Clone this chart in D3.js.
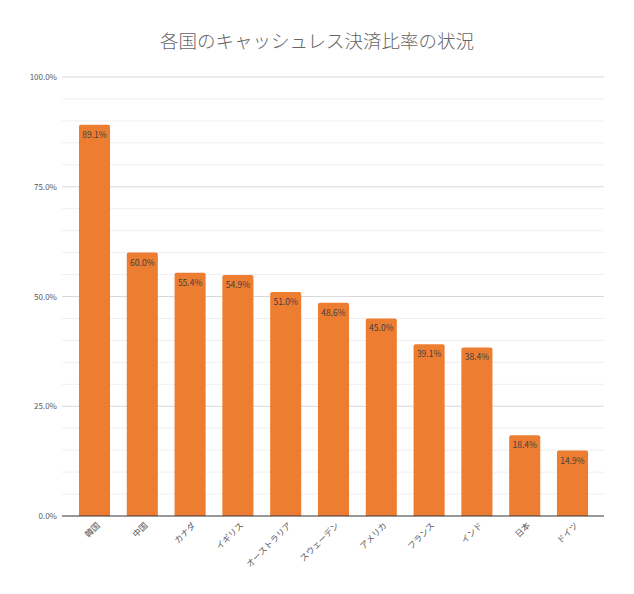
<!DOCTYPE html>
<html>
<head>
<meta charset="utf-8">
<script src="https://cdn.jsdelivr.net/npm/d3@7"></script>
<style>
  body { margin: 0; background: #fff; }
  svg { display: block; font-family: "Noto Sans CJK JP", "Noto Sans", sans-serif; }
</style>
</head>
<body>
<svg id="chart" width="634" height="594"></svg>
<script>
const countries = ["韓国", "中国", "カナダ", "イギリス", "オーストラリア", "スウェーデン", "アメリカ", "フランス", "インド", "日本", "ドイツ"];
const cashlessRate = [89.1, 60.0, 55.4, 54.9, 51.0, 48.6, 45.0, 39.1, 38.4, 18.4, 14.9];
const majorTicks = [0, 25, 50, 75, 100];
const minorTicks = [5, 10, 15, 20, 30, 35, 40, 45, 55, 60, 65, 70, 80, 85, 90, 95];

const svg = d3.select("#chart");
const plotLeft = 62, plotRight = 604, plotTop = 77, plotBottom = 516;

const x = d3.scaleBand()
    .domain(countries)
    .range([70.6, 596.4])
    .paddingInner(0.35)
    .paddingOuter(0.175);
const y = d3.scaleLinear().domain([0, 100]).range([plotBottom, plotTop]);

// title
svg.append("text")
    .attr("x", 317)
    .attr("y", 48)
    .attr("text-anchor", "middle")
    .attr("font-size", 18.5)
    .attr("font-weight", 300)
    .attr("fill", "#666")
    .text("各国のキャッシュレス決済比率の状況");

// gridlines
svg.append("g").selectAll("line")
    .data(minorTicks)
    .join("line")
    .attr("x1", plotLeft).attr("x2", plotRight)
    .attr("y1", d => y(d)).attr("y2", d => y(d))
    .attr("stroke", "#efefef").attr("stroke-width", 1);

svg.append("g").selectAll("line")
    .data(majorTicks.filter(d => d > 0))
    .join("line")
    .attr("x1", plotLeft).attr("x2", plotRight)
    .attr("y1", d => y(d)).attr("y2", d => y(d))
    .attr("stroke", "#d9d9d9").attr("stroke-width", 1);

// y axis labels
svg.append("g").selectAll("text")
    .data(majorTicks)
    .join("text")
    .attr("x", 57)
    .attr("y", d => y(d) + 3)
    .attr("text-anchor", "end")
    .attr("font-size", 8)
    .attr("fill", "#595959")
    .text(d => d.toFixed(1) + "%");

// bars with slightly rounded tops
const r = 2;
const data = countries.map((c, i) => ({ c, v: cashlessRate[i] }));
svg.append("g").selectAll("path")
    .data(data)
    .join("path")
    .attr("fill", "#ed7d31")
    .attr("d", d => {
        const x0 = x(d.c), w = x.bandwidth(), yt = y(d.v);
        return `M${x0},${plotBottom}V${yt + r}Q${x0},${yt} ${x0 + r},${yt}H${x0 + w - r}Q${x0 + w},${yt} ${x0 + w},${yt + r}V${plotBottom}Z`;
    });

// value labels
svg.append("g").selectAll("text")
    .data(data)
    .join("text")
    .attr("x", d => x(d.c) + x.bandwidth() / 2)
    .attr("y", d => y(d.v) + 13)
    .attr("text-anchor", "middle")
    .attr("font-size", 8.5)
    .attr("fill", "#404040")
    .text(d => d.v.toFixed(1) + "%");

// baseline
svg.append("line")
    .attr("x1", plotLeft).attr("x2", plotRight)
    .attr("y1", plotBottom).attr("y2", plotBottom)
    .attr("stroke", "#333").attr("stroke-width", 1.2);

// x labels, rotated
svg.append("g").selectAll("text")
    .data(countries)
    .join("text")
    .attr("transform", d => `translate(${x(d) + x.bandwidth() / 2 + 6},${plotBottom + 10}) rotate(-45)`)
    .attr("text-anchor", "end")
    .attr("font-size", 8.5)
    .attr("fill", "#595959")
    .text(d => d);
</script>
</body>
</html>
